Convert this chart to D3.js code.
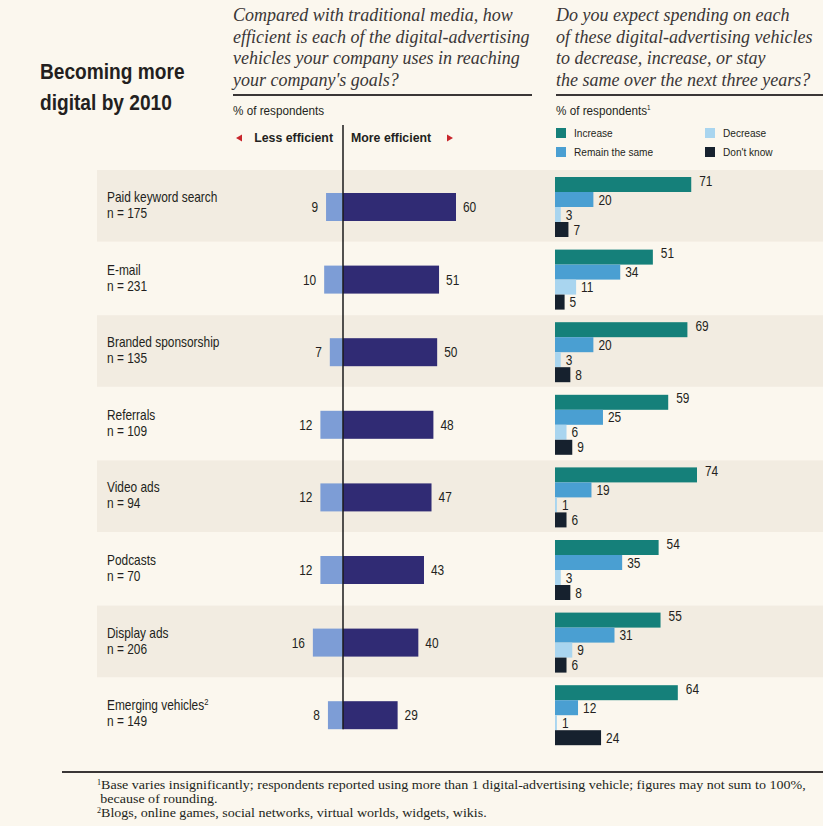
<!DOCTYPE html>
<html>
<head>
<meta charset="utf-8">
<script src="https://cdn.jsdelivr.net/npm/d3@7"></script>
<style>
  body { margin: 0; background: #fbf7ee; }
  .narrow { font-family: "Liberation Sans", Arial, sans-serif; }
  .serif { font-family: "Liberation Serif", "DejaVu Serif", serif; }
</style>
</head>
<body>
<div id="chart"></div>
<script>
// data
const categories = ["Paid keyword search", "E-mail", "Branded sponsorship", "Referrals",
  "Video ads", "Podcasts", "Display ads", "Emerging vehicles"];
const sampleSizes = [175, 231, 135, 109, 94, 70, 206, 149];
const lessEfficient = [9, 10, 7, 12, 12, 12, 16, 8];
const moreEfficient = [60, 51, 50, 48, 47, 43, 40, 29];
const increase = [71, 51, 69, 59, 74, 54, 55, 64];
const remainSame = [20, 34, 20, 25, 19, 35, 31, 12];
const decrease = [3, 11, 3, 6, 1, 3, 9, 1];
const dontKnow = [7, 5, 8, 9, 6, 8, 6, 24];
const spendSeries = ["Increase", "Remain the same", "Decrease", "Don't know"];

const width = 823, height = 826
, axisX = 343
, spendX = 555
, textColor = "#231f20";

const effColors = {less: "#7d9dd6", more: "#302b74"};
const spendColors = ["#15807a", "#4a9fd2", "#a9d5ef", "#16212e"];

const svg = d3.select("#chart").append("svg")
  .attr("width", width)
  .attr("height", height);

svg.append("rect").attr("width", width).attr("height", height).attr("fill", "#fbf7ee");

// condensed look: regular sans squeezed horizontally
function ntext(parent, x, y, str, size, sx, weight, anchor) {
  return parent.append("text")
    .attr("class", "narrow")
    .attr("transform", `translate(${x},${y}) scale(${sx},1)`)
    .attr("text-anchor", anchor || "start")
    .attr("fill", textColor)
    .style("font-size", size + "px")
    .style("font-weight", weight || "normal")
    .text(str);
}

// Rows
const yRow = d3.scaleBand()
  .domain(categories)
  .range([170, 170 + 8 * 72.6]);

svg.selectAll("rect.band")
  .data(categories.filter((d, i) => i % 2 === 0))
  .join("rect")
  .attr("class", "band")
  .attr("x", 97)
  .attr("y", d => yRow(d))
  .attr("width", width - 97)
  .attr("height", yRow.bandwidth() - 1)
  .attr("fill", "#f2ece1");

// Title
ntext(svg, 40, 79, "Becoming more", 22, 0.87, "bold");
ntext(svg, 40, 110, "digital by 2010", 22, 0.87, "bold");

// Questions
const leftQuestion = ["Compared with traditional media, how",
  "efficient is each of the digital-advertising",
  "vehicles your company uses in reaching",
  "your company's goals?"];
const rightQuestion = ["Do you expect spending on each",
  "of these digital-advertising vehicles",
  "to decrease, increase, or stay",
  "the same over the next three years?"];

function question(lines, x, w) {
  const t = svg.append("text")
    .attr("class", "serif")
    .attr("fill", "#3a3636")
    .style("font-size", "18px")
    .style("font-style", "italic");
  lines.forEach((l, i) => {
    t.append("tspan").attr("x", x).attr("y", 21 + i * 21.5).text(l);
  });
  svg.append("line")
    .attr("x1", x).attr("x2", x + w)
    .attr("y1", 95).attr("y2", 95)
    .attr("stroke", "#3a3636")
    .attr("stroke-width", 2);
}
question(leftQuestion, 233, 299);
question(rightQuestion, 556, 267);

ntext(svg, 233, 115, "% of respondents", 13, 0.9);
ntext(svg, 556, 115, "% of respondents", 13, 0.9)
  .append("tspan").attr("dy", -5).style("font-size", "7px").text("1");

// Efficiency direction labels
ntext(svg, 333, 142, "Less efficient", 13, 0.95, "bold", "end");
ntext(svg, 351, 142, "More efficient", 13, 0.95, "bold");
svg.append("path")
  .attr("d", "M236,138 L242,134.5 L242,141.5 Z")
  .attr("fill", "#c8262c");
svg.append("path")
  .attr("d", "M453,138 L447,134.5 L447,141.5 Z")
  .attr("fill", "#c8262c");

// Legend
const legend = svg.append("g");
const legendPos = [[556, 128], [556, 147], [705, 128], [705, 147]];
spendSeries.forEach((s, i) => {
  const [lx, ly] = legendPos[i];
  legend.append("rect")
    .attr("x", lx).attr("y", ly)
    .attr("width", 10).attr("height", 10)
    .attr("fill", spendColors[i]);
  ntext(legend, lx + 18, ly + 9, s, 11, 0.92);
});

// Row labels
categories.forEach((c, i) => {
  const cy = yRow(c) + 37;
  const t = ntext(svg, 107, cy - 5, c, 14, 0.85);
  if (i === categories.length - 1) {
    t.append("tspan").attr("dy", -5).style("font-size", "9px").text("2");
  }
  ntext(svg, 107, cy + 11, "n = " + sampleSizes[i], 14, 0.85);
});

// Efficiency bars
const xEff = d3.scaleLinear().domain([0, 60]).range([0, 113]);
const effBarY = 23, effBarH = 28;

const effG = svg.append("g");
effG.selectAll("rect.less")
  .data(categories)
  .join("rect")
  .attr("class", "less")
  .attr("x", (d, i) => axisX - xEff(lessEfficient[i]))
  .attr("y", d => yRow(d) + effBarY)
  .attr("width", (d, i) => xEff(lessEfficient[i]))
  .attr("height", effBarH)
  .attr("fill", effColors.less);
effG.selectAll("rect.more")
  .data(categories)
  .join("rect")
  .attr("class", "more")
  .attr("x", axisX)
  .attr("y", d => yRow(d) + effBarY)
  .attr("width", (d, i) => xEff(moreEfficient[i]))
  .attr("height", effBarH)
  .attr("fill", effColors.more);

categories.forEach((c, i) => {
  const ly = yRow(c) + effBarY + effBarH / 2 + 5;
  ntext(effG, axisX - xEff(lessEfficient[i]) - 8, ly, lessEfficient[i], 14, 0.85, "normal", "end");
  ntext(effG, axisX + xEff(moreEfficient[i]) + 7, ly, moreEfficient[i], 14, 0.85);
});

svg.append("line")
  .attr("x1", axisX).attr("x2", axisX)
  .attr("y1", 125).attr("y2", yRow(categories[7]) + effBarY + effBarH)
  .attr("stroke", "#1a1a1a")
  .attr("stroke-width", 1.5);

// Spending bars
const xSpend = d3.scaleLinear().domain([0, 74]).range([0, 142]);
const ySub = d3.scaleBand().domain(spendSeries).range([7, 67]);
const spendData = [increase, remainSame, decrease, dontKnow];

categories.forEach((c, i) => {
  const g = svg.append("g").attr("transform", `translate(${spendX},${yRow(c)})`);
  spendSeries.forEach((s, j) => {
    const v = spendData[j][i];
    g.append("rect")
      .attr("x", 0)
      .attr("y", ySub(s))
      .attr("width", xSpend(v))
      .attr("height", ySub.bandwidth())
      .attr("fill", spendColors[j]);
    ntext(g, xSpend(v) + (j === 0 ? 8 : 5), ySub(s) + ySub.bandwidth() / 2 + (j === 0 ? 1 : 5),
      v, 14, 0.85);
  });
});

// Footnotes
svg.append("line")
  .attr("x1", 62).attr("x2", width)
  .attr("y1", 772).attr("y2", 772)
  .attr("stroke", "#3a3636")
  .attr("stroke-width", 2);

const notes = [
  ["1", "Base varies insignificantly; respondents reported using more than 1 digital-advertising vehicle; figures may not sum to 100%,"],
  ["", "because of rounding."],
  ["2", "Blogs, online games, social networks, virtual worlds, widgets, wikis."]
];
notes.forEach((n, i) => {
  const t = svg.append("text")
    .attr("class", "serif")
    .attr("transform", `translate(97,${789 + i * 14}) scale(1.08,1)`)
    .attr("fill", textColor)
    .style("font-size", "13px");
  if (n[0]) t.append("tspan").attr("dy", -4).style("font-size", "7.5px").text(n[0]);
  t.append("tspan").attr("dy", n[0] ? 4 : 0).attr("dx", n[0] ? 0 : 3).text(n[1]);
});
</script>
</body>
</html>
